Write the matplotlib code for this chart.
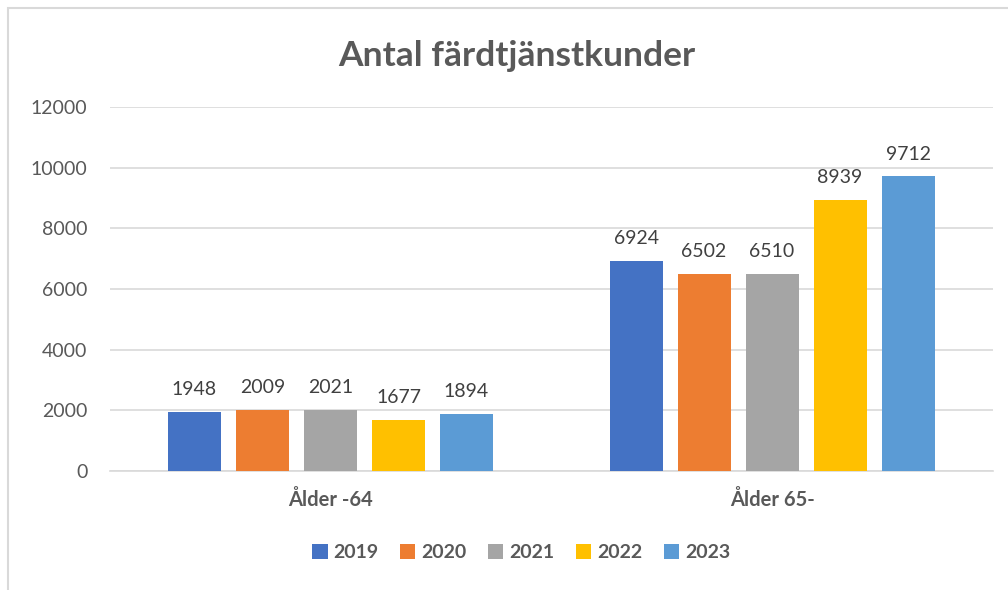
import matplotlib.pyplot as plt
from matplotlib.patches import Rectangle
import numpy as np

categories = ["Ålder -64", "Ålder 65-"]
years = ["2019", "2020", "2021", "2022", "2023"]
values = {
    "2019": [1948, 6924],
    "2020": [2009, 6502],
    "2021": [2021, 6510],
    "2022": [1677, 8939],
    "2023": [1894, 9712],
}
colors = ["#4472C4", "#ED7D31", "#A5A5A5", "#FFC000", "#5B9BD5"]

plt.rcParams['font.family'] = ['Lato', 'DejaVu Sans']

fig = plt.figure(figsize=(10.08, 5.90), dpi=100)
ax = fig.add_axes([0.1089, 0.2017, 0.8760, 0.6170])

x = np.arange(len(categories))
width = 53 / 441.5
step = 68 / 441.5
for i, year in enumerate(years):
    pos = x + (i - 2) * step
    bars = ax.bar(pos, values[year], width, color=colors[i], label=year, zorder=3)
    for b, v in zip(bars, values[year]):
        ax.text(b.get_x() + b.get_width() / 2, v + 450, str(v), ha='center', va='bottom',
                fontsize=14, color='#404040')

ax.set_xlim(-0.5, 1.5)
ax.set_ylim(0, 12000)
ax.set_yticks(range(0, 12001, 2000))
ax.yaxis.grid(True, color='#D9D9D9', linewidth=1.2, zorder=0)
ax.tick_params(axis='y', length=0, pad=16, labelsize=14, labelcolor='#595959')
ax.tick_params(axis='x', length=0, pad=14, labelsize=14.5, labelcolor='#595959')
ax.set_xticks(x)
ax.set_xticklabels(categories, fontweight='bold')
for s in ['top', 'right', 'left']:
    ax.spines[s].set_visible(False)
ax.spines['bottom'].set_color('#D9D9D9')
ax.spines['bottom'].set_linewidth(1.2)

fig.text(0.5125, 0.905, "Antal färdtjänstkunder", ha='center', va='center',
         fontsize=25.5, fontweight='bold', color='#595959')

leg = fig.legend(loc='center', bbox_to_anchor=(0.517, 0.063), ncol=5, frameon=False,
                 prop={'weight': 'bold', 'size': 14}, handlelength=0.8, handleheight=0.8,
                 handletextpad=0.3, columnspacing=1.1, labelcolor='#595959')

# chart border
fig.add_artist(Rectangle((8 / 1008, -0.1), 1.2, 1.1 - 8 / 590, transform=fig.transFigure,
                         fill=False, edgecolor='#D9D9D9', linewidth=1.5))

fig.savefig("out.png", dpi=100)
